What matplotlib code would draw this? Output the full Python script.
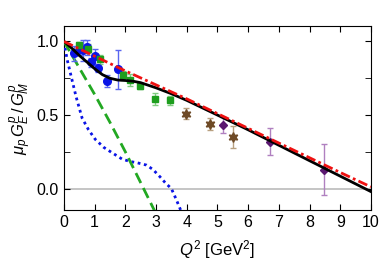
import matplotlib
matplotlib.use('Agg')
import matplotlib.pyplot as plt
import numpy as np

plt.rcParams['font.family'] = ['Liberation Sans', 'DejaVu Sans']
plt.rcParams['mathtext.fontset'] = 'custom'
plt.rcParams['mathtext.rm'] = 'Liberation Sans'
plt.rcParams['mathtext.it'] = 'Liberation Sans:italic'

# theory curves
black_q2 = [0, 0.25, 0.5, 0.75, 1.0, 1.25, 1.5, 1.75, 2.0, 2.25, 2.5, 3.0, 3.5, 4, 5, 6, 7, 8, 9, 10]
black_r = [1.0, 0.955, 0.905, 0.86, 0.815, 0.775, 0.75, 0.738, 0.735, 0.73, 0.72, 0.685, 0.645, 0.60,
           0.50, 0.40, 0.295, 0.19, 0.085, -0.02]
red_q2 = [0, 1, 2, 3, 4, 5, 6, 7, 8, 9, 10]
red_r = [1.0, 0.9, 0.8, 0.705, 0.61, 0.51, 0.41, 0.31, 0.21, 0.11, 0.012]
green_q2 = [0, 0.5, 1, 1.5, 2, 2.5, 2.95]
green_r = [1.0, 0.82, 0.64, 0.45, 0.25, 0.04, -0.15]
blue_q2 = [0, 0.1, 0.26, 0.4, 0.59, 0.8, 1.02, 1.3, 1.56, 1.9, 2.15, 2.4, 2.69, 2.9, 3.13, 3.3, 3.5, 3.65, 3.8]
blue_r = [1.0, 0.88, 0.74, 0.62, 0.48, 0.40, 0.335, 0.28, 0.245, 0.20, 0.185, 0.175, 0.16, 0.13,
          0.08, 0.04, 0.0, -0.07, -0.145]

# data sets
d1_q2 = [0.33, 0.52, 0.62, 0.76, 0.87, 1.01, 1.12, 1.41, 1.77]
d1_r = [0.92, 0.95, 0.94, 0.96, 0.86, 0.90, 0.82, 0.73, 0.81]
d1_err = [0.05, 0.04, 0.07, 0.05, 0.03, 0.05, 0.03, 0.04, 0.135]

d2_q2 = [0.50, 0.79, 1.17, 1.93, 2.15, 2.48, 2.96, 3.47]
d2_r = [0.975, 0.95, 0.88, 0.77, 0.74, 0.70, 0.61, 0.60]
d2_err = [0.02, 0.03, 0.03, 0.03, 0.04, 0.02, 0.04, 0.03]

d3_q2 = [3.97, 4.76, 5.52]
d3_r = [0.51, 0.44, 0.35]
d3_err = [0.04, 0.04, 0.075]

d4_q2 = [5.17, 6.71, 8.48]
d4_r = [0.43, 0.32, 0.13]
d4_err = [0.055, 0.09, 0.175]

fig = plt.figure(figsize=(3.82, 2.67), dpi=100)
ax = fig.add_axes([0.1675, 0.2135, 0.8035, 0.689])

ax.axhline(0, color='#bbbbbb', lw=1.2, zorder=1)

ax.plot(blue_q2, blue_r, color='#0a14e6', lw=2, ls=(0, (1, 1.3)), zorder=3)
ax.plot(green_q2, green_r, color='#22a822', lw=2, ls=(0, (4, 2)), zorder=3)

ax.errorbar(d1_q2, d1_r, yerr=d1_err, fmt='o', color='#0a14e6', ms=5.5, ecolor='#5a66f0',
            elinewidth=1, capsize=2, zorder=4)
ax.errorbar(d2_q2, d2_r, yerr=d2_err, fmt='s', color='#1e9e1e', ms=5, ecolor='#80cc80',
            elinewidth=1, capsize=2, zorder=4)
ax.errorbar(d3_q2, d3_r, yerr=d3_err, fmt='none', ecolor='#b8a080',
            elinewidth=1, capsize=2, zorder=4)
ax.plot(d3_q2, d3_r, ls='none', marker=(6, 1, 0), color='#6e4a26', ms=7, zorder=4)
ax.errorbar(d4_q2, d4_r, yerr=d4_err, fmt='D', color='#5a1870', ms=4, ecolor='#b080c0',
            elinewidth=1, capsize=2, zorder=4)

ax.plot(black_q2, black_r, color='black', lw=2, zorder=5)
ax.plot(red_q2, red_r, color='#ee1111', lw=2, ls=(0, (3.5, 1.2, 1, 1.2)), zorder=6)

ax.set_xlim(0, 10)
ax.set_ylim(-0.145, 1.105)
ax.set_xticks(range(0, 11))
ax.set_yticks([0.0, 0.5, 1.0])
ax.set_yticklabels(['0.0', '0.5', '1.0'])
ax.set_yticks([0.25, 0.75], minor=True)
ax.tick_params(which='both', direction='in', top=True, right=True, labelsize=11.5)
ax.tick_params(which='major', length=4)
ax.tick_params(which='minor', length=4)

ax.set_xlabel(r'$Q^2$ [GeV$^2$]', fontsize=12, labelpad=6)
ax.set_ylabel(r'$\mu_p\, G_E^p\, /\, G_M^p$', fontsize=12, labelpad=2)

fig.savefig('out.png', dpi=100)
